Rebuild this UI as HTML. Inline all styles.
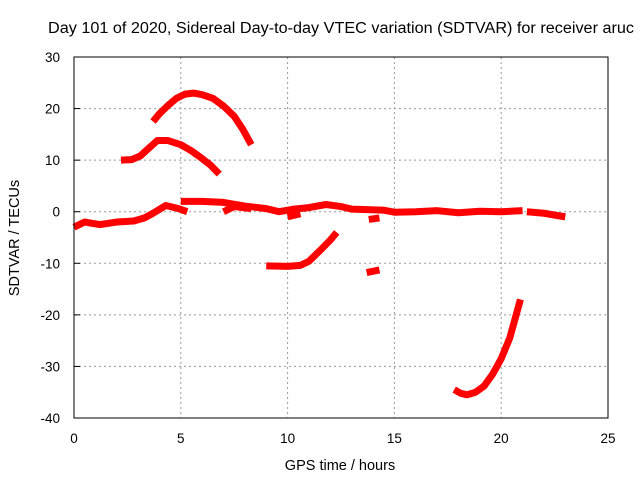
<!DOCTYPE html>
<html><head><meta charset="utf-8"><style>body{margin:0;background:#fff}svg{display:block}text{font-family:"Liberation Sans",sans-serif;fill:#000}</style></head>
<body>
<svg id="chart" width="640" height="480" viewBox="0 0 640 480">
<text x="48" y="33" font-size="15.5" textLength="586" lengthAdjust="spacingAndGlyphs">Day 101 of 2020, Sidereal Day-to-day VTEC variation (SDTVAR) for receiver aruc</text>
<g id="grid"></g>
<g id="series"></g>
<rect x="74" y="57" width="534" height="361" fill="none" stroke="#000" stroke-width="1"/>
<g id="ticks"></g>
<text x="340" y="470" font-size="14.5" text-anchor="middle">GPS time / hours</text>
<text transform="translate(19,238) rotate(-90)" font-size="14.5" text-anchor="middle">SDTVAR / TECUs</text>
</svg>
<script>
const xTicks=[0,5,10,15,20,25];
const yTicks=[-40,-30,-20,-10,0,10,20,30];
const arcA=[[3.7,17.5],[4.0,19],[4.4,20.6],[4.8,22],[5.2,22.8],[5.6,23],[6.0,22.7],[6.5,22],[7.0,20.5],[7.5,18.5],[7.9,16],[8.3,13]];
const arcB=[[2.2,10],[2.7,10.1],[3.1,10.8],[3.5,12.3],[3.9,13.8],[4.4,13.8],[5.0,13],[5.5,11.8],[6.0,10.3],[6.4,9],[6.8,7.3]];
const arcC1=[[0,-3],[0.5,-2],[1.2,-2.5],[2,-2],[2.8,-1.8],[3.3,-1.2],[3.7,-0.3],[4.3,1.2],[4.9,0.6],[5.3,0]];
const arcC2=[[5,2],[6,2],[7,1.8],[8,1.1],[9,0.6],[9.6,0],[10.3,0.5],[11,0.8],[11.8,1.4],[12.5,1],[13,0.5],[14.5,0.3],[15,-0.1],[16,0],[17,0.2],[18,-0.2],[19,0.1],[20,0],[21,0.2]];
const arcC3=[[21.2,0],[22,-0.3],[23,-1]];
const arcC4=[[7,0],[7.5,1],[8.3,0.6]];
const arcC5=[[10,-1],[10.6,-0.4]];
const arcD=[[9,-10.5],[10,-10.6],[10.6,-10.4],[11,-9.6],[11.5,-7.6],[12,-5.5],[12.3,-4]];
const arcE=[[13.7,-11.8],[14.3,-11.3]];
const arcF=[[13.8,-1.5],[14.3,-1.2]];
const arcG=[[17.8,-34.5],[18.1,-35.2],[18.4,-35.5],[18.8,-35],[19.2,-33.8],[19.6,-31.5],[20,-28.5],[20.4,-24.5],[20.9,-17]];
const allSeries=[arcA,arcB,arcC1,arcC2,arcC3,arcC4,arcC5,arcD,arcE,arcF,arcG];
const X=v=>74+v*534/25, Y=v=>418-(v+40)*361/70;
const NS="http://www.w3.org/2000/svg";
const g=document.getElementById('grid'),t=document.getElementById('ticks'),s=document.getElementById('series');
function mk(tag,a,p){const e=document.createElementNS(NS,tag);for(const k in a)e.setAttribute(k,a[k]);p.appendChild(e);return e;}
xTicks.forEach(v=>{
 if(v>0&&v<25){const l=mk('line',{x1:X(v),x2:X(v),y1:57,y2:418,stroke:'#999','stroke-dasharray':'2,3'},g);
 
 }
 const tx=mk('text',{x:X(v),y:443,'font-size':13.5,'text-anchor':'middle'},t);tx.textContent=v;
 
 
});
yTicks.forEach(v=>{
 if(v>-40&&v<30){const l=mk('line',{x1:74,x2:608,y1:Y(v),y2:Y(v),stroke:'#999','stroke-dasharray':'2,3'},g);
 
 }
 mk('line',{x1:74,x2:80,y1:Y(v),y2:Y(v),stroke:'#000'},t);
 const tx=mk('text',{x:60,y:Y(v)+5,'font-size':13.5,'text-anchor':'end'},t);tx.textContent=v;
 
 
});
allSeries.forEach(arr=>{
 const p=mk('polyline',{points:arr.map(d=>X(d[0])+','+Y(d[1])).join(' '),fill:'none',stroke:'#f00','stroke-width':7,'stroke-linejoin':'round','stroke-linecap':'butt'},s);
 
 
});
</script>
</body></html>
